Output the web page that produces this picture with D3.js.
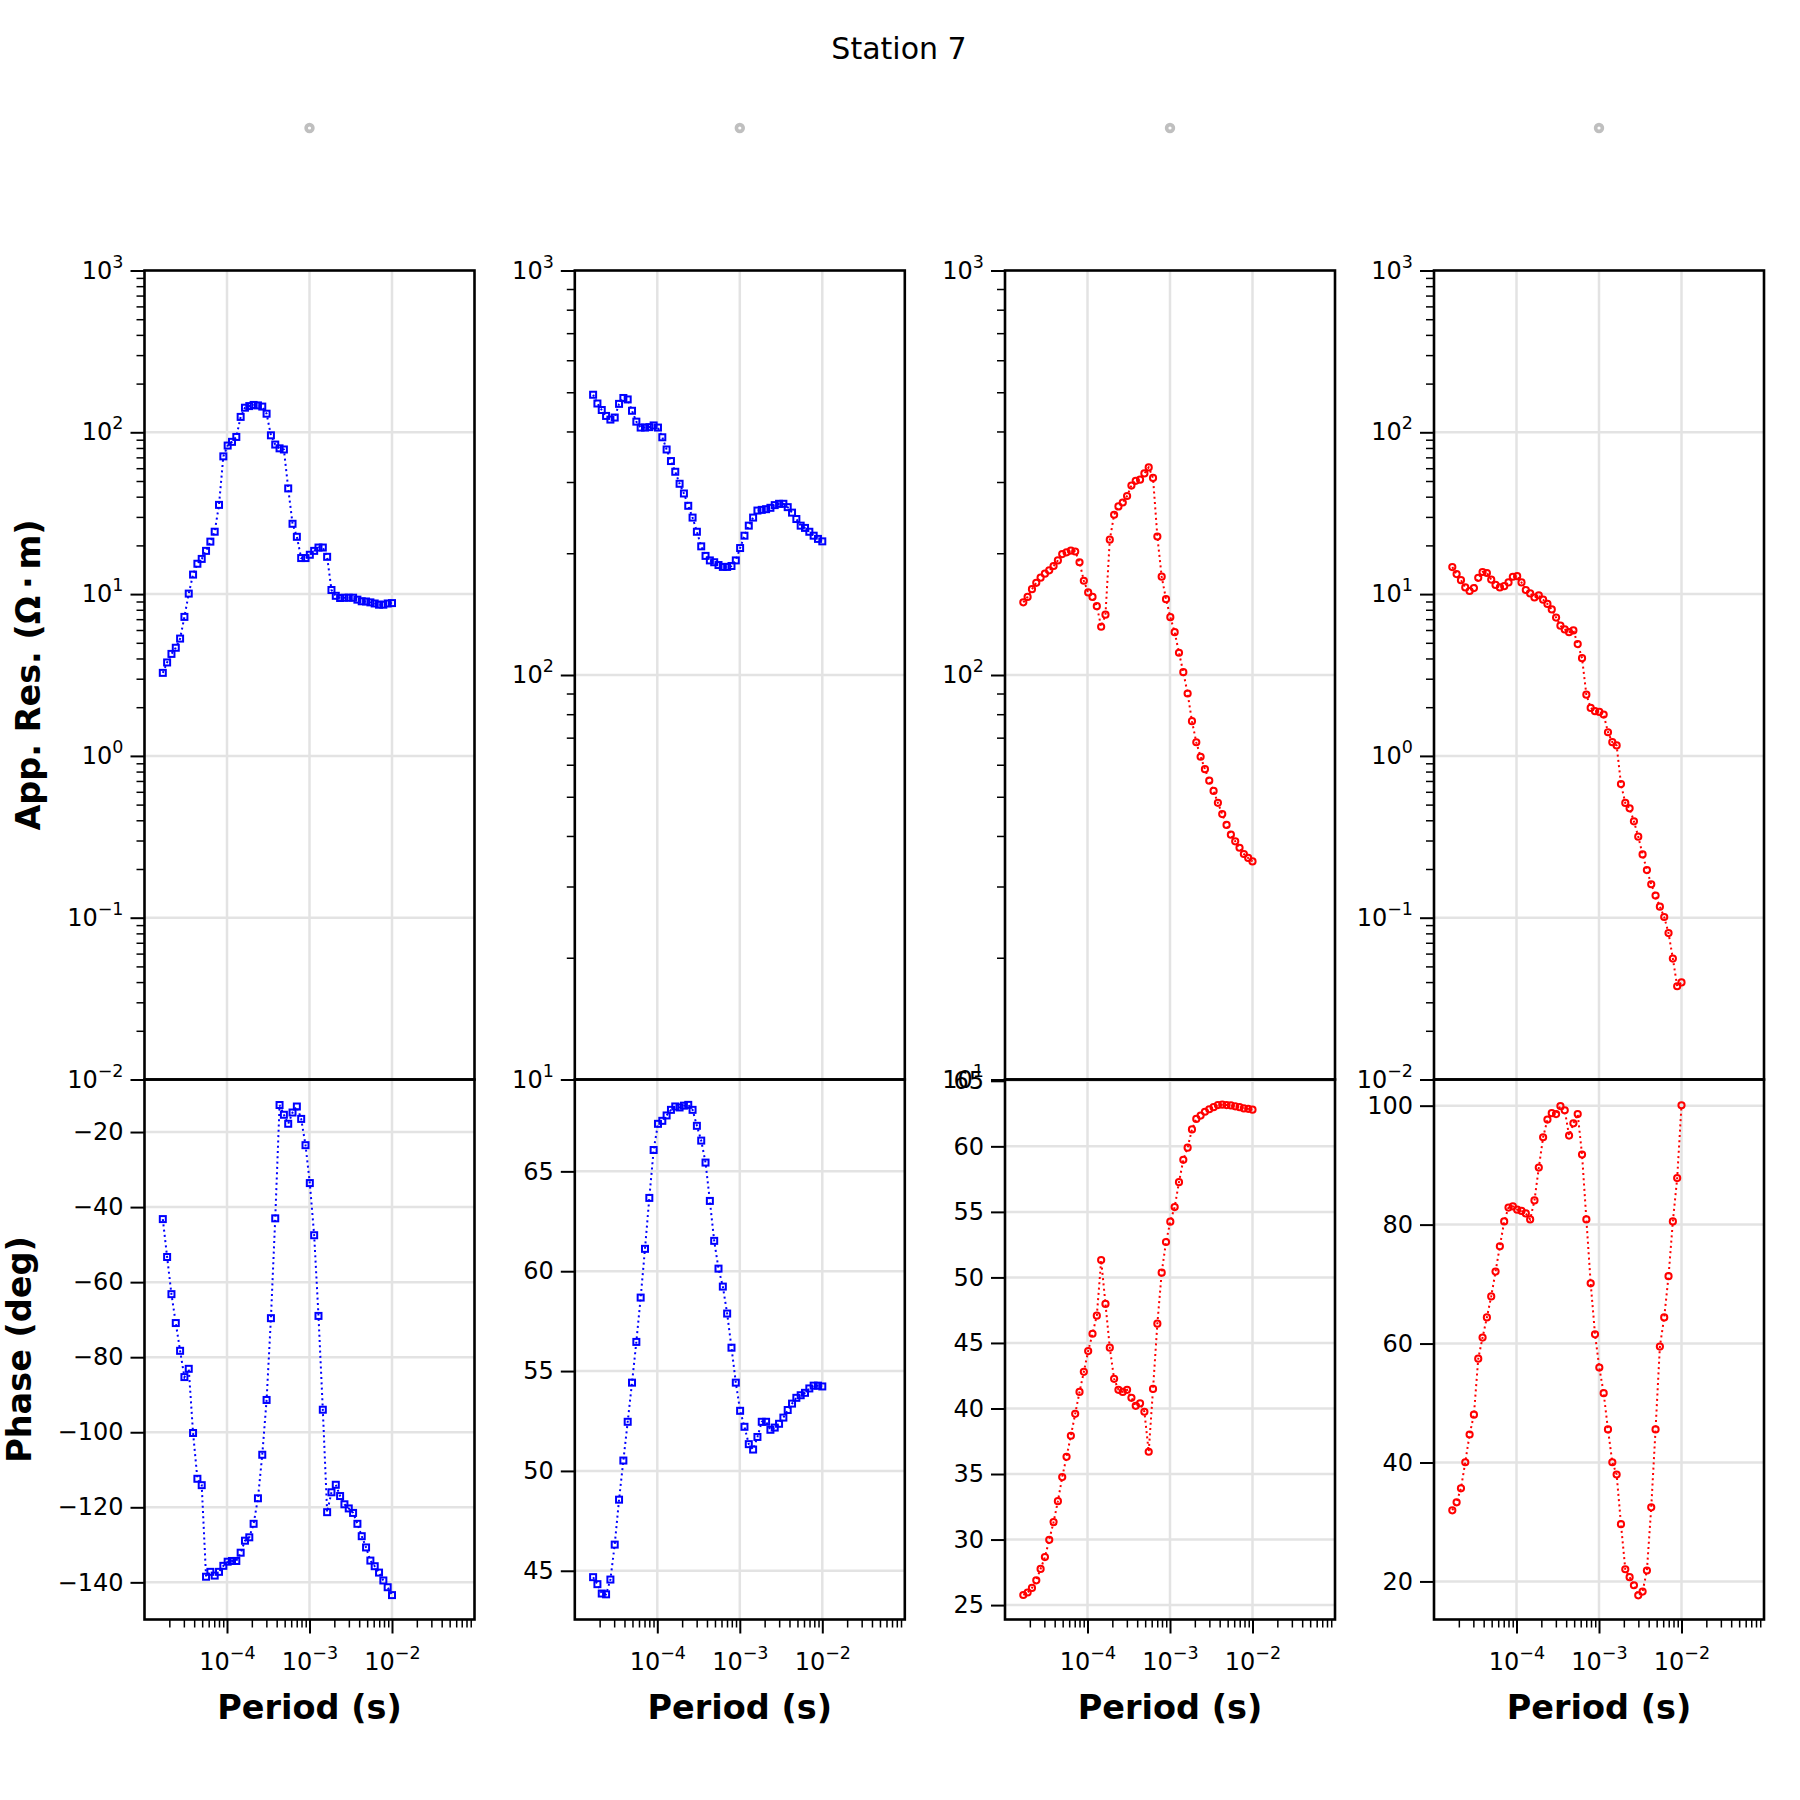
<!DOCTYPE html>
<html>
<head>
<meta charset="utf-8">
<title>Station 7</title>
<script src="https://d3js.org/d3.v7.min.js"></script>
<style>
  body { margin: 0; background: #fff; }
  text { font-family: "DejaVu Sans", sans-serif; fill: #000; }
</style>
</head>
<body>
<div id="chart"></div>
<script>
// periods (s), shared by every panel
const periods = [
  1.667e-5, 1.880e-5, 2.122e-5, 2.394e-5, 2.701e-5, 3.047e-5, 3.438e-5, 3.879e-5, 4.377e-5, 4.938e-5,
  5.572e-5, 6.286e-5, 7.093e-5, 8.003e-5, 9.030e-5, 1.019e-4, 1.150e-4, 1.297e-4, 1.464e-4, 1.651e-4,
  1.863e-4, 2.102e-4, 2.372e-4, 2.676e-4, 3.019e-4, 3.407e-4, 3.843e-4, 4.336e-4, 4.893e-4, 5.520e-4,
  6.228e-4, 7.027e-4, 7.929e-4, 8.946e-4, 1.009e-3, 1.139e-3, 1.285e-3, 1.450e-3, 1.636e-3, 1.846e-3,
  2.083e-3, 2.350e-3, 2.651e-3, 2.991e-3, 3.375e-3, 3.808e-3, 4.297e-3, 4.848e-3, 5.470e-3, 6.172e-3,
  6.964e-3, 7.857e-3, 8.865e-3, 1.000e-2
];

const rhoXX = [3.26, 3.78, 4.27, 4.66, 5.31, 7.23, 10.07, 13.2, 15.4, 16.5, 18.5, 21.1, 24.3, 35.6, 71.0,
  82.8, 87.3, 93.6, 124.5, 141.9, 145.2, 147.6, 146.6, 144.2, 130.3, 95.8, 84.0, 79.6, 78.3, 45.0, 27.2,
  22.6, 16.7, 16.7, 17.5, 18.5, 19.4, 19.4, 17.0, 10.6, 9.76, 9.46, 9.5, 9.5, 9.5, 9.24, 9.03, 9.0, 8.89,
  8.75, 8.6, 8.6, 8.75, 8.8];
const phaseXX = [-43.2, -53.3, -63.2, -70.9, -78.3, -85.3, -83.1, -100.2, -112.4, -114.1, -138.5, -137.2,
  -138.2, -137.2, -135.6, -134.5, -134.3, -134.3, -132.1, -128.9, -128.0, -124.4, -117.6, -106.0, -91.4,
  -69.6, -43.0, -12.8, -15.4, -17.8, -14.8, -13.2, -16.5, -23.5, -33.6, -47.5, -69.0, -94.0, -121.3,
  -116.0, -114.0, -117.0, -119.2, -120.3, -121.5, -124.4, -127.7, -130.7, -134.2, -135.7, -137.4, -139.5,
  -141.3, -143.4];

const rhoXY = [493, 469, 452, 437, 428, 433, 468, 484, 480, 450, 423, 409, 409, 410, 414, 409, 387, 361,
  338, 318, 297, 281, 262, 245, 226, 208, 197, 192, 190, 187, 185, 185, 186, 192, 206, 221, 234, 245, 255,
  256, 257, 259, 263, 265, 265, 260, 252, 243, 234, 231, 226, 221, 217, 214];
const phaseXY = [44.68, 44.33, 43.86, 43.82, 44.56, 46.31, 48.56, 50.52, 52.46, 54.42, 56.46, 58.68, 61.12,
  63.67, 66.07, 67.38, 67.53, 67.80, 68.08, 68.25, 68.20, 68.29, 68.33, 68.08, 67.28, 66.54, 65.44, 63.52,
  61.52, 60.13, 59.23, 57.88, 56.17, 54.42, 53.01, 52.21, 51.34, 51.07, 51.70, 52.46, 52.46, 52.06, 52.17,
  52.36, 52.67, 53.05, 53.37, 53.66, 53.79, 53.91, 54.13, 54.27, 54.27, 54.23];

const rhoYX = [151.2, 156, 163, 169, 174, 178, 181.5, 186, 192, 199, 201, 203, 202, 190, 171, 160, 156, 148,
  131.6, 141, 216, 249, 261, 267, 277, 294, 302, 304, 315, 326, 307, 220, 175, 154, 139, 127.6, 113.5,
  101.6, 90.0, 76.9, 68.2, 62.8, 58.5, 54.8, 51.7, 48.3, 45.3, 42.6, 40.3, 38.8, 37.4, 36.1, 35.3, 34.6];
const phaseYX = [25.77, 25.96, 26.31, 26.89, 27.76, 28.66, 29.98, 31.33, 32.93, 34.77, 36.31, 37.92, 39.59,
  41.26, 42.80, 44.38, 45.70, 47.08, 51.32, 47.98, 44.64, 42.26, 41.42, 41.26, 41.42, 40.81, 40.20, 40.39,
  39.75, 36.70, 41.49, 46.47, 50.36, 52.70, 54.25, 55.37, 57.27, 58.97, 59.90, 61.29, 62.09, 62.35, 62.64,
  62.83, 62.99, 63.15, 63.18, 63.15, 63.12, 63.05, 62.99, 62.89, 62.86, 62.80];

const rhoYY = [14.7, 13.3, 12.2, 11.0, 10.45, 10.9, 12.6, 13.7, 13.5, 12.3, 11.4, 11.0, 11.2, 11.8, 12.8,
  12.9, 11.8, 10.6, 10.1, 9.53, 9.84, 9.24, 8.69, 8.04, 7.16, 6.38, 6.05, 5.82, 5.96, 4.91, 4.02, 2.39,
  1.98, 1.89, 1.87, 1.80, 1.40, 1.215, 1.16, 0.67, 0.512, 0.474, 0.394, 0.317, 0.246, 0.197, 0.161, 0.137,
  0.117, 0.101, 0.0803, 0.0559, 0.0377, 0.0398];
const phaseYY = [31.96, 33.31, 35.65, 40.04, 44.71, 48.04, 57.45, 61.01, 64.39, 67.93, 72.11, 76.35, 80.53,
  82.87, 83.08, 82.51, 82.30, 81.88, 80.88, 84.07, 89.59, 94.69, 97.66, 98.73, 98.58, 99.93, 99.22, 94.97,
  97.03, 98.58, 91.79, 80.88, 70.12, 61.56, 55.96, 51.65, 45.56, 40.04, 37.98, 29.63, 22.05, 20.71, 19.36,
  17.66, 18.30, 21.84, 32.46, 45.56, 59.50, 64.39, 71.33, 80.53, 87.82, 100.07];

// axis limits and ticks
const rhoLimits = [[1e-2, 1e3], [1e1, 1e3], [1e1, 1e3], [1e-2, 1e3]];
const phaseLimits = [[-149.9, -6.0], [42.56, 69.6], [23.9, 65.1], [13.6, 104.4]];
const phaseTicks = [
  [-140, -120, -100, -80, -60, -40, -20],
  [45, 50, 55, 60, 65],
  [25, 30, 35, 40, 45, 50, 55, 60, 65],
  [20, 40, 60, 80, 100]
];
const periodTicks = [1e-4, 1e-3, 1e-2];

const panels = [
  { rho: rhoXX, phase: phaseXX, color: "#0000ff", marker: "square" },
  { rho: rhoXY, phase: phaseXY, color: "#0000ff", marker: "square" },
  { rho: rhoYX, phase: phaseYX, color: "#ff0000", marker: "circle" },
  { rho: rhoYY, phase: phaseYY, color: "#ff0000", marker: "circle" }
];

const W = 1800, H = 1800;
const panelLeft = [144.5, 574.8, 1005, 1434];
const panelW = 330;
const topY = 270.5, midY = 1079.5, botY = 1619.5;
const gridColor = "#e3e3e3";
const tickFont = 24;

const svg = d3.select("#chart").append("svg")
  .attr("width", W).attr("height", H)
  .style("background", "#fff");

svg.append("text")
  .attr("x", 899).attr("y", 59)
  .attr("text-anchor", "middle")
  .attr("font-size", 30)
  .text("Station 7");

const minus = v => v < 0 ? "\u2212" + (-v) : String(v);

function powerLabel(sel) {
  sel.each(function (d) {
    const t = d3.select(this);
    const e = Math.round(Math.log10(d));
    t.text(null);
    t.append("tspan").text("10");
    t.append("tspan").attr("dy", -11).attr("font-size", 17.5).text(minus(e));
  });
}

panels.forEach((p, i) => {
  const left = panelLeft[i];
  const x = d3.scaleLog().domain([1e-5, 1e-1]).range([left, left + panelW]);
  const yR = d3.scaleLog().domain(rhoLimits[i]).range([midY, topY]);
  const yP = d3.scaleLinear().domain(phaseLimits[i]).range([botY, midY]);

  const lo = Math.round(Math.log10(rhoLimits[i][0]));
  const hi = Math.round(Math.log10(rhoLimits[i][1]));
  const decades = d3.range(lo, hi + 1).map(e => Math.pow(10, e));
  const minorR = [];
  d3.range(lo, hi).forEach(e => { for (let m = 2; m <= 9; m++) minorR.push(m * Math.pow(10, e)); });
  const minorX = [];
  d3.range(-5, -1).forEach(e => { for (let m = 2; m <= 9; m++) minorX.push(m * Math.pow(10, e)); });

  const g = svg.append("g");

  // grid
  const grid = g.append("g").attr("stroke", gridColor).attr("stroke-width", 2.5);
  grid.selectAll(".gx").data(periodTicks).enter().append("line")
    .attr("x1", d => x(d)).attr("x2", d => x(d))
    .attr("y1", topY).attr("y2", botY);
  grid.selectAll(".gr").data(decades.filter(d => d > rhoLimits[i][0] && d < rhoLimits[i][1])).enter().append("line")
    .attr("x1", left).attr("x2", left + panelW)
    .attr("y1", d => yR(d)).attr("y2", d => yR(d));
  grid.selectAll(".gp").data(phaseTicks[i]).enter().append("line")
    .attr("x1", left).attr("x2", left + panelW)
    .attr("y1", d => yP(d)).attr("y2", d => yP(d));

  // dotted lines + hollow markers
  const rows = periods.map((t, k) => ({ t, rho: p.rho[k], ph: p.phase[k] }));
  [["rho", yR], ["ph", yP]].forEach(([key, y]) => {
    g.append("path")
      .datum(rows)
      .attr("fill", "none")
      .attr("stroke", p.color)
      .attr("stroke-width", 2)
      .attr("stroke-dasharray", "2,3.3")
      .attr("d", d3.line().x(d => x(d.t)).y(d => y(d[key])));
    if (p.marker === "square") {
      g.selectAll(null).data(rows).enter().append("rect")
        .attr("x", d => x(d.t) - 3).attr("y", d => y(d[key]) - 3)
        .attr("width", 6).attr("height", 6)
        .attr("fill", "none").attr("stroke", p.color).attr("stroke-width", 2);
    } else {
      g.selectAll(null).data(rows).enter().append("circle")
        .attr("cx", d => x(d.t)).attr("cy", d => y(d[key]))
        .attr("r", 3.1)
        .attr("fill", "none").attr("stroke", p.color).attr("stroke-width", 2);
    }
  });

  // resistivity axis
  const ax1 = g.append("g").attr("transform", `translate(${left},0)`);
  ax1.append("g").call(d3.axisLeft(yR).tickValues(minorR).tickSize(8).tickFormat(""))
    .call(s => s.select(".domain").remove())
    .selectAll("line").attr("stroke-width", 1.5);
  ax1.append("g").call(d3.axisLeft(yR).tickValues(decades).tickSize(14).tickPadding(7))
    .call(s => s.select(".domain").remove())
    .call(s => s.selectAll("line").attr("stroke-width", 2))
    .call(s => s.selectAll("text").attr("font-size", tickFont).attr("font-family", "DejaVu Sans").call(powerLabel));

  // phase axis
  g.append("g").attr("transform", `translate(${left},0)`)
    .call(d3.axisLeft(yP).tickValues(phaseTicks[i]).tickSize(14).tickPadding(7).tickFormat(minus))
    .call(s => s.select(".domain").remove())
    .call(s => s.selectAll("line").attr("stroke-width", 2))
    .call(s => s.selectAll("text").attr("font-size", tickFont).attr("font-family", "DejaVu Sans"));

  // period axis
  const ax3 = g.append("g").attr("transform", `translate(0,${botY})`);
  ax3.append("g").call(d3.axisBottom(x).tickValues(minorX.filter(d => !periodTicks.includes(d))).tickSize(8).tickFormat(""))
    .call(s => s.select(".domain").remove())
    .selectAll("line").attr("stroke-width", 1.5);
  ax3.append("g").call(d3.axisBottom(x).tickValues(periodTicks).tickSize(14))
    .call(s => s.select(".domain").remove())
    .call(s => s.selectAll("line").attr("stroke-width", 2))
    .call(s => s.selectAll("text").attr("font-size", tickFont).attr("font-family", "DejaVu Sans")
      .attr("y", 50).attr("dy", null).call(powerLabel));

  // frames
  g.append("rect").attr("x", left).attr("y", topY).attr("width", panelW).attr("height", midY - topY)
    .attr("fill", "none").attr("stroke", "#000").attr("stroke-width", 2.6);
  g.append("rect").attr("x", left).attr("y", midY).attr("width", panelW).attr("height", botY - midY)
    .attr("fill", "none").attr("stroke", "#000").attr("stroke-width", 2.6);

  g.append("text")
    .attr("x", left + panelW / 2).attr("y", 1719)
    .attr("text-anchor", "middle")
    .attr("font-size", 33.5).attr("font-weight", "bold")
    .text("Period (s)");

  // empty legend marker above each column
  g.append("circle")
    .attr("cx", left + panelW / 2).attr("cy", 128)
    .attr("r", 3.4)
    .attr("fill", "#fff").attr("stroke", "#bfbfbf").attr("stroke-width", 3.6);
});

svg.append("text")
  .attr("transform", "translate(40,675) rotate(-90)")
  .attr("text-anchor", "middle")
  .attr("font-size", 33.5).attr("font-weight", "bold")
  .text("App. Res. (\u03A9\u2009\u00B7\u2009m)");

svg.append("text")
  .attr("transform", "translate(31,1349.5) rotate(-90)")
  .attr("text-anchor", "middle")
  .attr("font-size", 33.5).attr("font-weight", "bold")
  .text("Phase (deg)");
</script>
</body>
</html>
